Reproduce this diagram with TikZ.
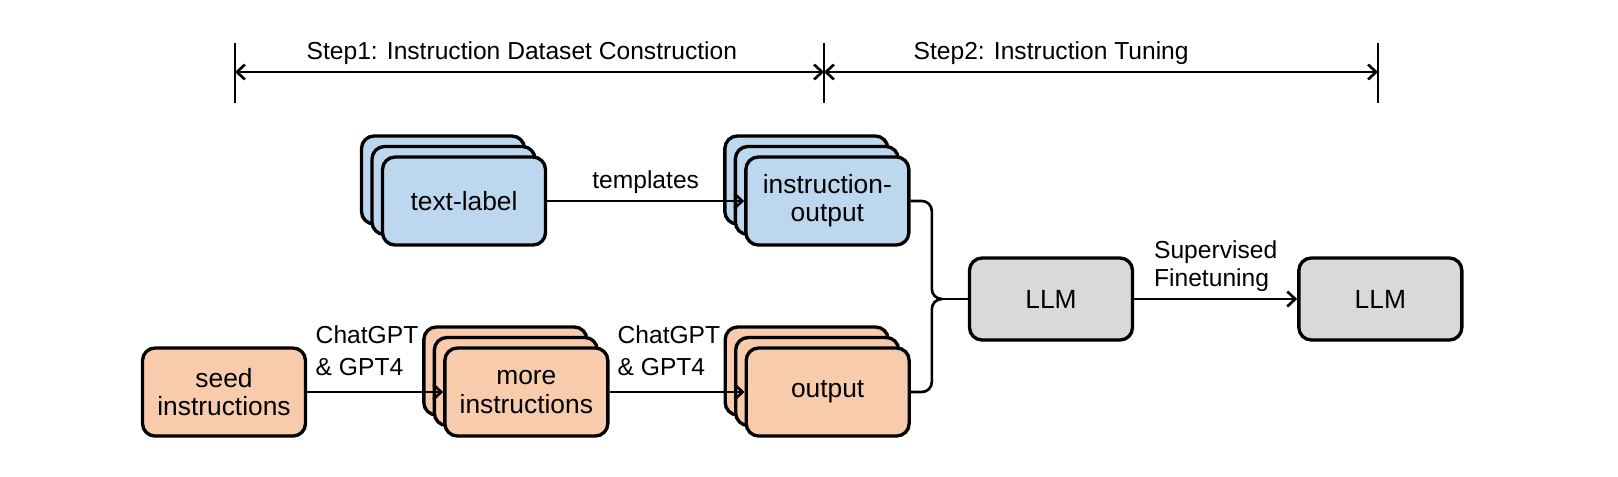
\documentclass[tikz,border=0pt]{standalone}
\usepackage{fontspec}
\setmainfont{Liberation Sans}
\usetikzlibrary{positioning,calc,shadows,arrows.meta}
\definecolor{boxblue}{RGB}{189,215,238}
\definecolor{boxorange}{RGB}{248,203,173}
\definecolor{boxgray}{RGB}{217,217,217}

\begin{document}
\begin{tikzpicture}[>={Straight Barb[length=0.16cm,width=0.3cm]}]
    \tikzset{box/.style={
        draw, line width=1.9pt, rounded corners=0.25cm, minimum width=3.26cm, minimum height=1.76cm,
        align=center, font=\fontsize{15}{16}\selectfont
      },
      stackbox/.style={box,
        double copy shadow={shadow xshift=-0.21cm, shadow yshift=0.21cm}
      },
      llmbox/.style={box, fill=boxgray, minimum height=1.64cm},
      wire/.style={line width=1.5pt},
      lbl/.style={font=\fontsize{14}{16}\selectfont, align=left},
      gptlbl/.style={font=\fontsize{14}{18}\selectfont, align=left, pos=0.44, above, yshift=0.18cm}
    }

    \useasboundingbox (0,0) rectangle (32.36,-9.52);

    \node[stackbox, fill=boxblue] (tl) at (9.28,-4.02) {text-label};
    \node[stackbox, fill=boxblue] (io) [right=3.94cm of tl] {instruction-\\output};

    \node[box, fill=boxorange] (seed) at (4.48,-7.84) {seed\\instructions};
    \node[stackbox, fill=boxorange] (more) [right=2.72cm of seed] {more\\instructions};
    \node[stackbox, fill=boxorange] (out) [right=2.7cm of more] {output};

    \node[llmbox] (llm) at (21.02,-5.98) {LLM};
    \node[llmbox] (llm2) [right=3.26cm of llm] {LLM};

    % the two steps on top
    \coordinate (s0) at (4.70,-1.44);
    \coordinate (s1) at (16.48,-1.44);
    \coordinate (s2) at (27.56,-1.44);
    \foreach \c in {s0,s1,s2}
      \draw[line width=1pt] ($(\c)+(0,0.58)$) -- ($(\c)+(0,-0.62)$);
    \draw[<->, wire] (s0) -- (s1) node[pos=0.487, above, lbl] {Step1: Instruction Dataset Construction};
    \draw[<->, wire] (s1) -- (s2) node[pos=0.41, above, lbl] {Step2: Instruction Tuning};

    \draw[->, wire] (tl) -- (io) node[midway, above, lbl] {templates};
    \draw[->, wire] (seed) -- (more) node[gptlbl] {ChatGPT\\\& GPT4};
    \draw[->, wire] (more) -- (out) node[gptlbl] {ChatGPT\\\& GPT4};

    % brace into the LLM
    \coordinate (tip) at ($(llm.west)+(-0.52,0)$);
    \draw[wire, rounded corners=0.2cm] (io.east) -| ($(tip)+(-0.2,0)$) -- (tip);
    \draw[wire, rounded corners=0.2cm] (out.east) -| ($(tip)+(-0.2,0)$) -- (tip);
    \draw[wire] (tip) -- (llm.west);

    \draw[->, wire] (llm) -- (llm2) node[midway, above, lbl] {Supervised\\Finetuning};
  \end{tikzpicture}
\end{document}
